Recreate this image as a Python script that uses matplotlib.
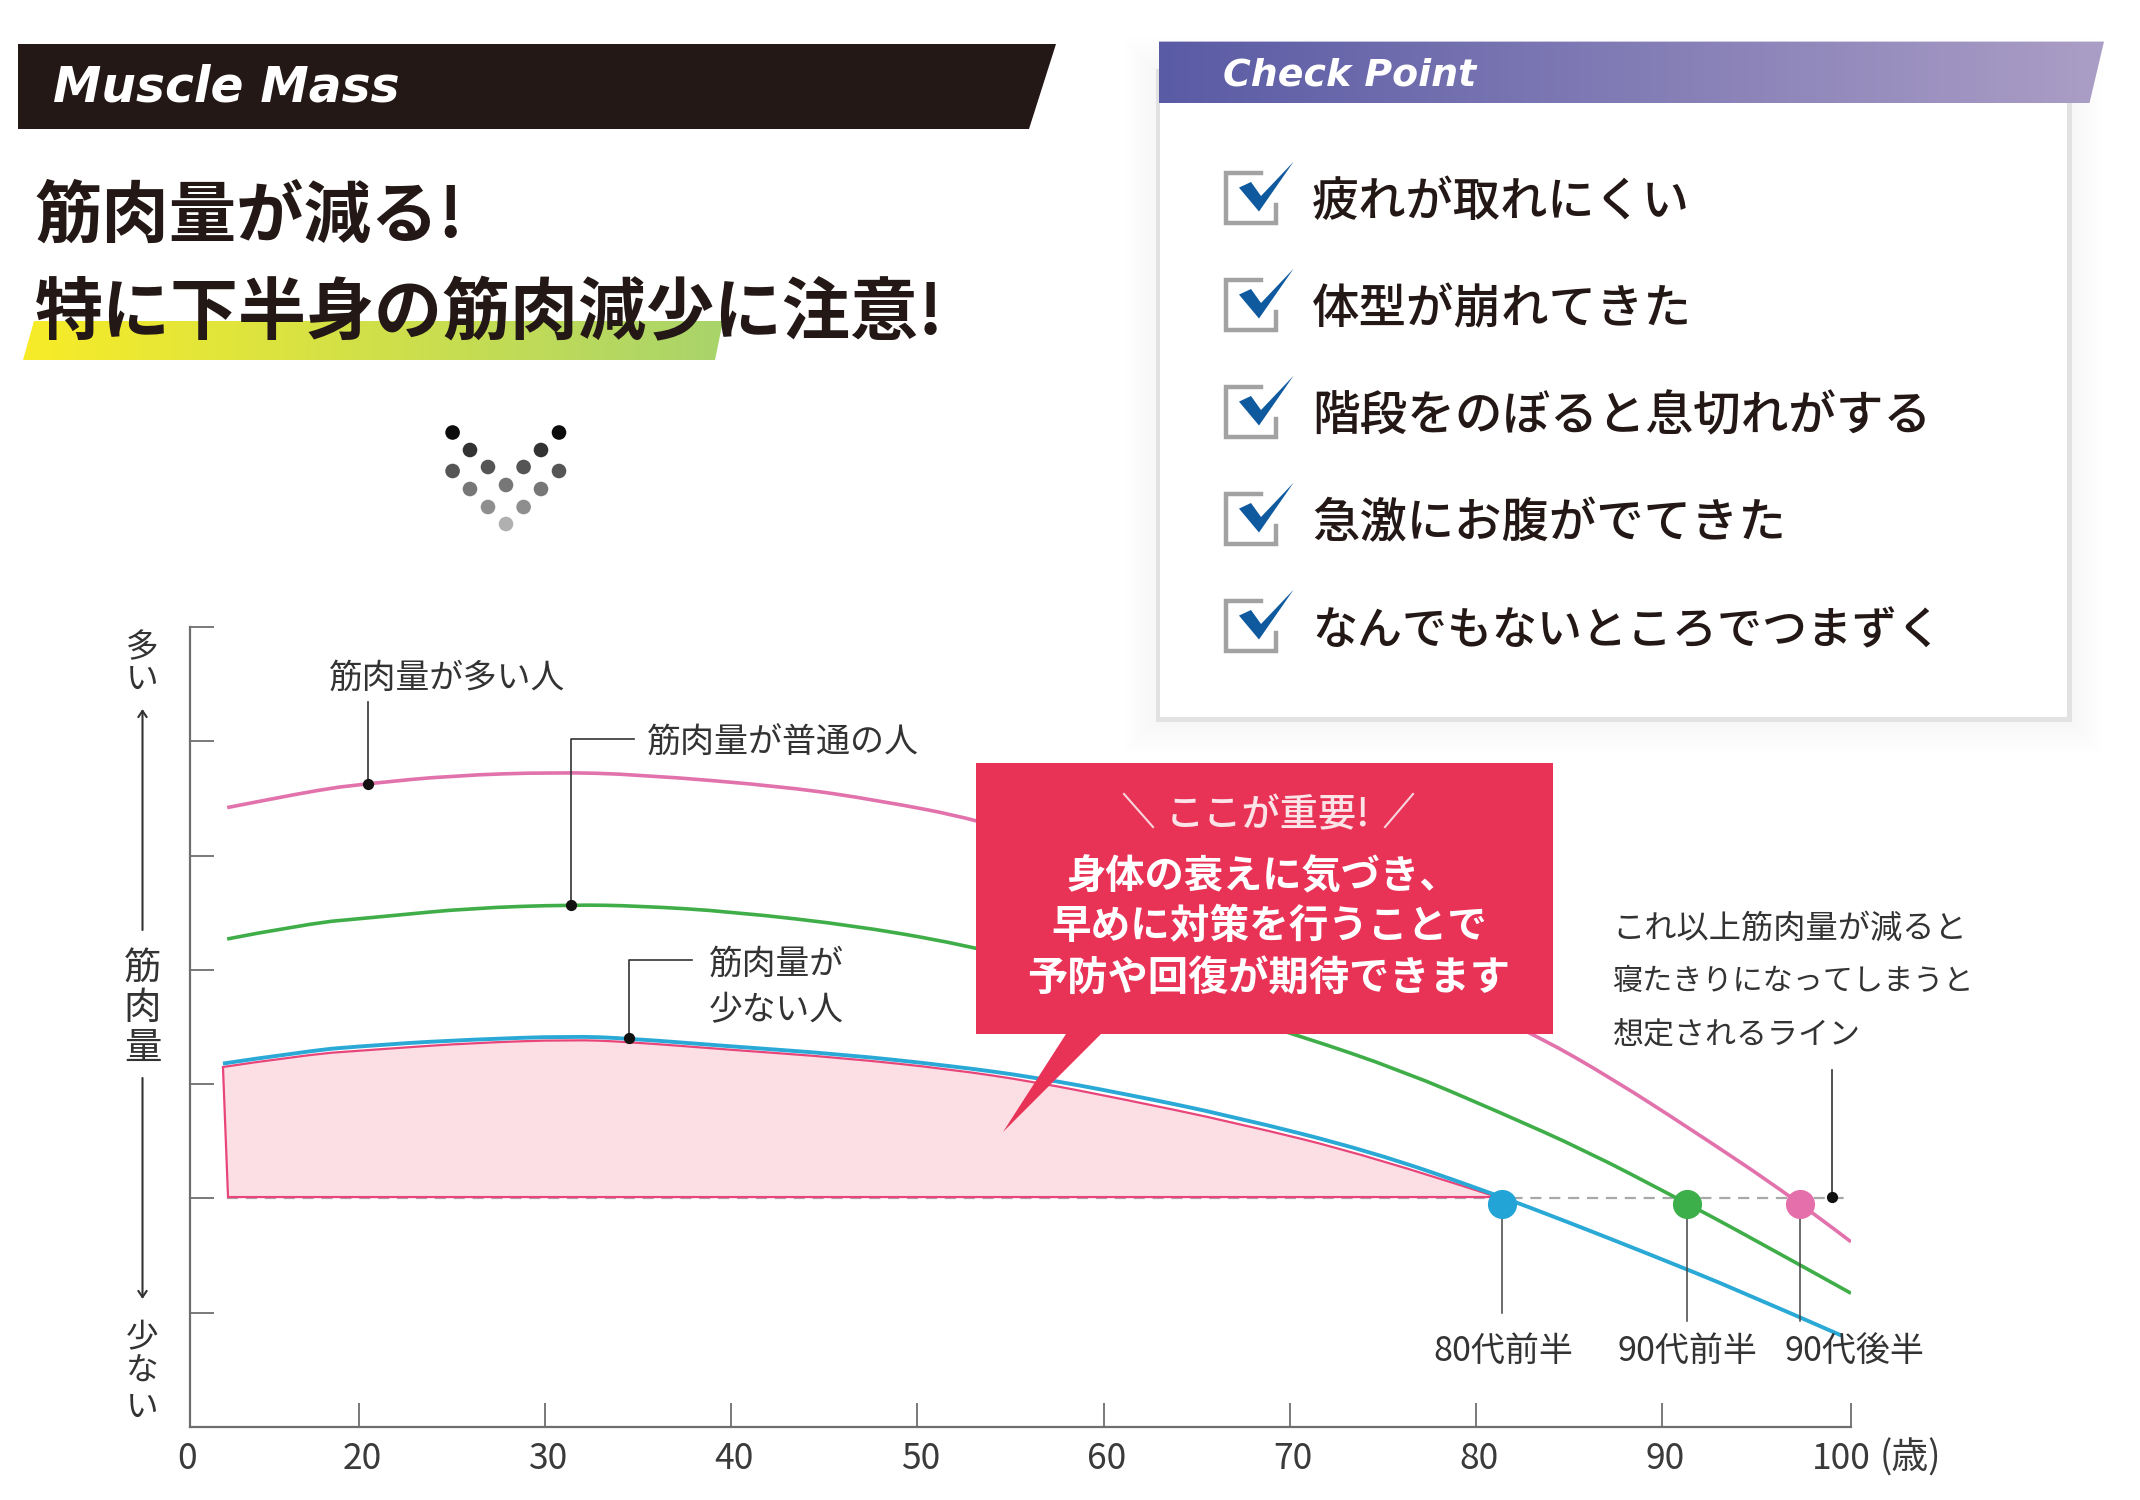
import numpy as np
import matplotlib
matplotlib.use('Agg')
import matplotlib.pyplot as plt
from matplotlib.colors import LinearSegmentedColormap
from matplotlib.patches import Polygon, Rectangle, Circle, PathPatch
from matplotlib.path import Path
from matplotlib.transforms import ScaledTranslation

plt.rcParams['font.family'] = ['Noto Sans CJK JP', 'DejaVu Sans']

INK = '#231815'
AXIS_GREY = '#6e6e6e'

# curves (age, muscle mass in tick units)
high_age = [4.4, 10, 15, 20.5, 25, 30.5, 35, 43.1, 48, 53.1, 60, 70, 80, 83.4, 87.4, 91.4, 97.0, 100]
high_val = [5.42, 5.50, 5.57, 5.63, 5.70, 5.73, 5.71, 5.60, 5.48, 5.32, 4.98, 4.38, 3.66, 3.415, 3.04, 2.62, 2.00, 1.62]
mid_age = [4.4, 12, 21.5, 26, 31.4, 35, 40, 47, 53.1, 60, 65, 70.6, 76, 81.2, 86, 90.6, 95, 100]
mid_val = [4.27, 4.38, 4.47, 4.54, 4.57, 4.56, 4.51, 4.38, 4.20, 3.93, 3.70, 3.42, 3.12, 2.76, 2.41, 2.02, 1.63, 1.17]
low_age = [3.9, 12, 21.5, 26, 31.4, 34.5, 40, 46, 51.8, 56.3, 61, 66.9, 74.4, 80.8, 85, 89.5, 94, 99.5]
low_val = [3.18, 3.27, 3.35, 3.39, 3.42, 3.40, 3.33, 3.26, 3.16, 3.06, 2.92, 2.72, 2.41, 2.05, 1.79, 1.50, 1.20, 0.80]
fill_val = [3.15, 3.24, 3.31, 3.36, 3.39, 3.37, 3.30, 3.23, 3.13, 3.02, 2.87, 2.67, 2.37, 2.03]

limit_val = 2.0
x_ticks = [0, 20, 30, 40, 50, 60, 70, 80, 90, 100]
x_labels = ['0', '20', '30', '40', '50', '60', '70', '80', '90', '100']
x_label_shift = [-3, 3, 3, 3, 3, 3, 3, 3, 3, -10]
y_ticks = [0, 1, 2, 3, 4, 5, 6, 7]

onset_age = [81.4, 91.3, 97.3]
onset_val = [1.95, 1.95, 1.95]
onset_color = ['#23a4d6', '#3cae4a', '#e56fab']
onset_label = ['80代前半', '90代前半', '90代後半']

checks = ['疲れが取れにくい', '体型が崩れてきた', '階段をのぼると息切れがする',
          '急激にお腹がでてきた', 'なんでもないところでつまずく']
check_size = [34, 34.2, 34.3, 34.1, 32.4]


# the axis is squeezed below 20: ticks are not evenly spaced there
def age_to_pos(a):
    return np.interp(a, [0, 20, 90, 100], [190, 359, 1662, 1851])


def pos_to_age(p):
    return np.interp(p, [190, 359, 1662, 1851], [0, 20, 90, 100])


def smooth_path(xs, ys):
    # quadratic segments through the midpoints, so the read points leave no kinks
    verts = [(xs[0], ys[0])]
    codes = [Path.MOVETO]
    for i in range(1, len(xs) - 1):
        verts.append((xs[i], ys[i]))
        codes.append(Path.CURVE3)
        if i < len(xs) - 2:
            verts.append(((xs[i] + xs[i + 1]) / 2, (ys[i] + ys[i + 1]) / 2))
        else:
            verts.append((xs[i + 1], ys[i + 1]))
        codes.append(Path.CURVE3)
    return verts, codes


def draw_curve(ax, xs, ys, color, lw, zorder):
    verts, codes = smooth_path(xs, ys)
    ax.add_patch(PathPatch(Path(verts, codes), fill=False, edgecolor=color, lw=lw, zorder=zorder))


fig = plt.figure(figsize=(21.4, 15), dpi=100, facecolor='white')
ax = fig.add_axes([190 / 2140, 1 - 1427 / 1500, (1851 - 190) / 2140, 800 / 1500])
ax.set_xscale('function', functions=(age_to_pos, pos_to_age))
ax.set_xlim(0, 100)
ax.set_ylim(0, 7)
ax.patch.set_visible(False)
for s in ['top', 'right']:
    ax.spines[s].set_visible(False)
for s in ['left', 'bottom']:
    ax.spines[s].set_color(AXIS_GREY)
    ax.spines[s].set_linewidth(1.6)
ax.set_xticks(x_ticks, x_labels)
ax.set_yticks(y_ticks, [''] * len(y_ticks))
ax.minorticks_off()
ax.tick_params(axis='both', direction='in', length=17, width=1.3, color=AXIS_GREY)
ax.tick_params(axis='x', labelsize=25.5, labelcolor='#3a3a3a', pad=10)
for lbl, dx in zip(ax.get_xticklabels(), x_label_shift):
    lbl.set_transform(lbl.get_transform() + ScaledTranslation(dx / 100, 0, fig.dpi_scale_trans))

ax.plot([4.4, 100], [limit_val, limit_val], color='#a8a8a8', lw=1.6, ls=(0, (5, 3.5)), zorder=1)
fill_verts, fill_codes = smooth_path(low_age[:14], fill_val)
fill_verts += [(low_age[13], limit_val + 0.012), (low_age[0] + 0.6, limit_val + 0.012), (low_age[0], fill_val[0])]
fill_codes += [Path.LINETO, Path.LINETO, Path.CLOSEPOLY]
ax.add_patch(PathPatch(Path(fill_verts, fill_codes), facecolor='#fbdfe4', edgecolor='#e8457a', lw=1.6, zorder=1.5))
draw_curve(ax, high_age, high_val, '#e272ac', 2.6, 2)
draw_curve(ax, mid_age, mid_val, '#3fae49', 2.6, 2)
draw_curve(ax, low_age, low_val, '#2aa9d6', 2.8, 2.1)

# leader lines, black dots, drop lines to the age labels
ax.plot([20.5, 20.5], [5.63, 6.34], color='#333333', lw=1.2, zorder=3)
ax.plot([34.8, 31.4, 31.4], [6.02, 6.02, 4.57], color='#333333', lw=1.2, zorder=3)
ax.plot([37.9, 34.5, 34.5], [4.09, 4.09, 3.40], color='#333333', lw=1.2, zorder=3)
ax.plot([99.0, 99.0], [2.01, 3.12], color='#333333', lw=1.2, zorder=3)
ax.scatter([20.5, 31.4, 34.5, 99.0], [5.63, 4.57, 3.40, 2.01], s=50, color='#111111', zorder=4)
drop_val = [1.0, 0.93, 0.93]
for a, v, d, c in zip(onset_age, onset_val, drop_val, onset_color):
    ax.plot([a, a], [d, v], color='#444444', lw=1.1, zorder=3)
    ax.scatter([a], [v], s=440, color=c, lw=0, zorder=4)

# everything else sits on a pixel overlay
ov = fig.add_axes([0, 0, 1, 1], zorder=5)
ov.patch.set_visible(False)
ov.axis('off')


def gradient(ov, pts, c0, c1):
    cmap = LinearSegmentedColormap.from_list('g', [c0, c1])
    xs = [p[0] for p in pts]
    ys = [p[1] for p in pts]
    im = ov.imshow(np.linspace(0, 1, 256).reshape(1, -1), cmap=cmap, aspect='auto',
                   extent=(min(xs), max(xs), max(ys), min(ys)), zorder=1)
    im.set_clip_path(Polygon(pts, closed=True, transform=ov.transData))


# left header
ov.add_patch(Polygon([(18, 44), (1056, 44), (1029, 129), (18, 129)], color=INK, lw=0))
ov.text(53, 88, 'Muscle Mass', color='white', fontsize=35, family='DejaVu Sans',
        weight='bold', style='oblique', va='center')
gradient(ov, [(34, 321), (723, 321), (715, 360), (23, 360)], '#f8ec27', '#a9d46b')
ov.text(35, 217, '筋肉量が減る!', color=INK, fontsize=48.5, weight='bold', va='center', zorder=3)
ov.text(35, 315, '特に下半身の筋肉減少に注意!', color=INK, fontsize=49, weight='bold', va='center', zorder=3)

# arrow made of dots
dot_x = [452.6, 559, 470, 541, 452.6, 488, 523.6, 559, 470, 506, 541, 488, 523.6, 506]
dot_y = [432.5, 432.5, 450, 450, 471, 467, 467, 471, 489, 485, 489, 507, 507, 524]
dot_c = ['#0c0c0c', '#0c0c0c', '#333333', '#333333', '#555555', '#555555', '#555555', '#555555',
         '#777777', '#777777', '#777777', '#8e8e8e', '#8e8e8e', '#b0b0b0']
for x, y, c in zip(dot_x, dot_y, dot_c):
    ov.add_patch(Circle((x, y), 7.3, color=c, lw=0))

# check point panel
for i in range(8):
    grow = 3 + i * 4
    ov.add_patch(Rectangle((1156 - grow, 69 - grow), 916 + 2 * grow, 653 + 2 * grow,
                           color='#000000', alpha=0.005, lw=0, zorder=0.5))
ov.add_patch(Rectangle((1156, 69), 916, 653, facecolor='#e2e2e2', lw=0, zorder=0.6))
ov.add_patch(Rectangle((1160, 69), 907, 648, facecolor='white', lw=0, zorder=0.7))
gradient(ov, [(1159, 41.6), (2104, 41.6), (2089.5, 103), (1159, 103)], '#5a5ba5', '#ab9ec6')
ov.text(1223, 76, 'Check Point', color='white', fontsize=27.3, family='DejaVu Sans',
        weight='bold', style='oblique', va='center', zorder=3)

for i, (label, size) in enumerate(zip(checks, check_size)):
    dy = i * 107
    ov.plot([1261, 1226, 1226, 1276, 1276], [173 + dy, 173 + dy, 223 + dy, 223 + dy, 205 + dy],
            color='#a2a2a2', lw=3.2, solid_joinstyle='miter', zorder=2)
    ov.add_patch(Polygon([(1239, 187.6 + dy), (1251, 182 + dy), (1261, 196 + dy),
                          (1293.6, 161.7 + dy), (1259, 211.5 + dy)], color='#0f5a9e', lw=0, zorder=3))
    ov.text(1312, 202.6 + dy, label, color=INK, fontsize=size, weight='medium', va='center', zorder=3)

# callout
ov.add_patch(Polygon([(976, 763), (1553, 763), (1553, 1034), (1101, 1034), (1003, 1132),
                      (1066, 1034), (976, 1034)], color='#e83357', lw=0, zorder=2))
ov.plot([1124, 1153], [794, 827], color='#f8d5dc', lw=1.5, zorder=3)
ov.plot([1413, 1385], [794, 827], color='#f8d5dc', lw=1.5, zorder=3)
ov.text(1268, 815, 'ここが重要!', color='#fbe3e8', fontsize=27.5, weight='medium', ha='center', va='center', zorder=3)
ov.text(1263, 877, '身体の衰えに気づき、', color='white', fontsize=28.3, weight='bold', ha='center', va='center', zorder=3)
ov.text(1269, 927, '早めに対策を行うことで', color='white', fontsize=28.5, weight='bold', ha='center', va='center', zorder=3)
ov.text(1269, 978.5, '予防や回復が期待できます', color='white', fontsize=29, weight='bold', ha='center', va='center', zorder=3)

# annotations
TXT = '#333333'
ov.text(329, 678, '筋肉量が多い人', color=TXT, fontsize=24.3, va='center')
ov.text(647, 743, '筋肉量が普通の人', color=TXT, fontsize=24.5, va='center')
ov.text(709, 964, '筋肉量が', color=TXT, fontsize=24.3, va='center')
ov.text(709, 1011, '少ない人', color=TXT, fontsize=24.3, va='center')
ov.text(1612, 929, 'これ以上筋肉量が減ると', color=TXT, fontsize=23.2, va='center')
ov.text(1612, 982, '寝たきりになってしまうと', color=TXT, fontsize=21.7, va='center')
ov.text(1612, 1035, '想定されるライン', color=TXT, fontsize=22.3, va='center')
for x, label in zip([1503, 1687, 1854], onset_label):
    ov.text(x, 1351, label, color=TXT, fontsize=24.5, ha='center', va='center')
ov.text(1880, 1458, '(歳)', color='#3a3a3a', fontsize=26.5, va='center')

# vertical y axis caption
for ch, y in zip('多い', [648, 680]):
    ov.text(142.5, y, ch, color=TXT, fontsize=23.5, ha='center', va='center')
for ch, y in zip('筋肉量', [968, 1008, 1048]):
    ov.text(142.5, y, ch, color=TXT, fontsize=27, ha='center', va='center')
for ch, y in zip('少ない', [1338, 1372, 1408]):
    ov.text(142.5, y, ch, color=TXT, fontsize=23.5, ha='center', va='center')
arrow = dict(arrowstyle='->,head_length=0.45,head_width=0.3', lw=1.5, color='#333333', shrinkA=0, shrinkB=0)
ov.annotate('', xy=(142.5, 709), xytext=(142.5, 930), arrowprops=arrow)
ov.annotate('', xy=(142.5, 1299), xytext=(142.5, 1078), arrowprops=arrow)

ov.set_xlim(0, 2140)
ov.set_ylim(1500, 0)

fig.savefig('out.png', dpi=100)
